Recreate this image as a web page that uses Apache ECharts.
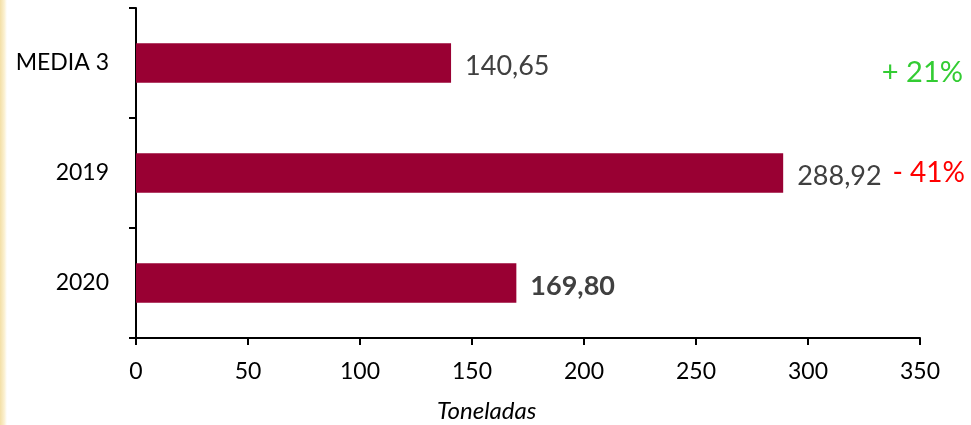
<!DOCTYPE html>
<html><head><meta charset="utf-8">
<script src="https://cdn.jsdelivr.net/npm/echarts@6/dist/echarts.min.js"></script>
<style>
html,body{margin:0;padding:0;background:#fff;}
#edge{position:absolute;left:0;top:0;width:7px;height:425px;background:linear-gradient(to right,#f3dfa6,#fbf0cf 60%,#fff);}
#c{position:absolute;left:0;top:0;width:971px;height:425px;}
</style></head>
<body><div id="edge"></div><div id="c"></div>
<script>
const categories = ['MEDIA 3', '2019', '2020'];
const values = [140.65, 288.92, 169.80];
const valueLabels = ['140,65', '288,92', '169,80'];
const xTicks = [0, 50, 100, 150, 200, 250, 300, 350];
const changeLabels = ['+ 21%', '- 41%'];
const axisTitle = 'Toneladas';

const FONT = 'Lato, "Open Sans", sans-serif';
const chart = echarts.init(document.getElementById('c'), null, {renderer:'canvas'});
chart.setOption({
  animation:false,
  backgroundColor:'transparent',
  grid:{left:136,right:51,top:8,bottom:87,containLabel:false},
  xAxis:{
    type:'value',min:xTicks[0],max:xTicks[xTicks.length-1],interval:50,
    axisLine:{show:true,lineStyle:{color:'#000',width:2}},
    axisTick:{show:true,length:7,lineStyle:{color:'#000',width:2}},
    axisLabel:{fontFamily:FONT,fontSize:23,color:'#000',margin:22},
    splitLine:{show:false}
  },
  yAxis:{
    type:'category',data:categories,inverse:true,
    axisLine:{show:true,lineStyle:{color:'#000',width:2}},
    axisTick:{show:true,length:7,alignWithLabel:false,lineStyle:{color:'#000',width:2}},
    axisLabel:{fontFamily:FONT,fontSize:23,color:'#000',margin:27}
  },
  series:[{
    type:'bar',
    data:values.map((v,i)=>({value:v,label:{fontWeight:i===2?'bold':'normal'}})),
    barCategoryGap:'64%',
    itemStyle:{color:'#990033'},
    label:{show:true,position:'right',distance:14,fontFamily:FONT,fontSize:27,color:'#404040',
      offset:[0,3],formatter:p=>valueLabels[p.dataIndex]}
  }],
  graphic:[
    {type:'text',left:437,top:399,style:{text:axisTitle,font:'italic 24px '+FONT,fill:'#000'}},
    {type:'text',right:8,top:58,style:{text:changeLabels[0],font:'29px '+FONT,fill:'#33cc33'}},
    {type:'text',right:6,top:159,style:{text:changeLabels[1],font:'28px '+FONT,fill:'#ff0000'}}
  ]
});
</script></body></html>
